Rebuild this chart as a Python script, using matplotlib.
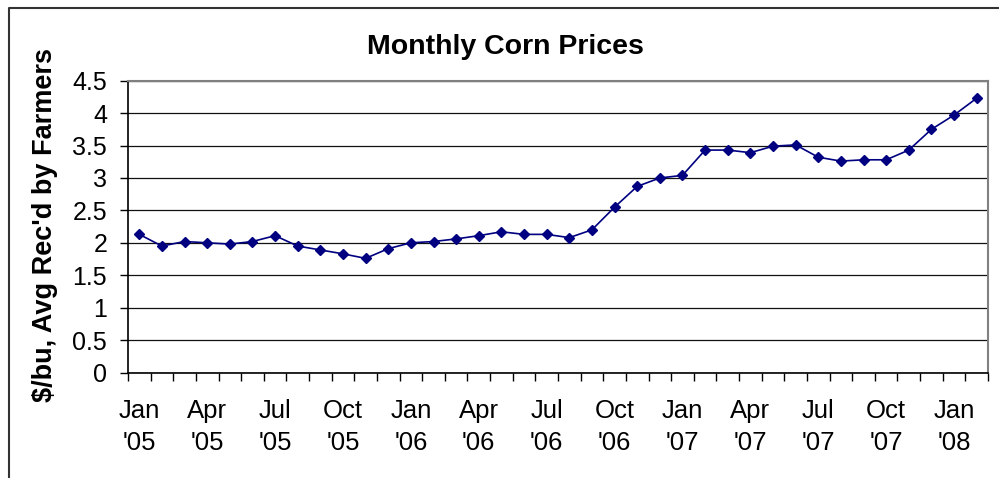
import matplotlib.pyplot as plt
from matplotlib.lines import Line2D

plt.rcParams['font.family'] = ['Liberation Sans', 'DejaVu Sans']

# monthly corn prices, Jan 2005 - Feb 2008 ($/bu)
prices = [2.13, 1.95, 2.02, 2.00, 1.98, 2.02, 2.11, 1.95, 1.89, 1.83, 1.76, 1.91,
          2.00, 2.02, 2.06, 2.11, 2.17, 2.13, 2.13, 2.08, 2.20, 2.55, 2.87, 3.00,
          3.04, 3.43, 3.43, 3.39, 3.49, 3.51, 3.32, 3.26, 3.28, 3.28, 3.43, 3.75,
          3.97, 4.23]
tick_labels = ["Jan\n'05", "Apr\n'05", "Jul\n'05", "Oct\n'05",
               "Jan\n'06", "Apr\n'06", "Jul\n'06", "Oct\n'06",
               "Jan\n'07", "Apr\n'07", "Jul\n'07", "Oct\n'07",
               "Jan\n'08"]
y_ticks = [0, 0.5, 1, 1.5, 2, 2.5, 3, 3.5, 4, 4.5]

fig = plt.figure(figsize=(9.99, 4.78), dpi=100)
ax = fig.add_axes([0.1281, 0.2207, 0.8609, 0.6105])

x = list(range(len(prices)))
ax.plot(x, prices, color='#000080', lw=1.2, marker='D', ms=5.5, zorder=3)

ax.set_xlim(-0.5, len(prices) - 0.5)
ax.set_ylim(0, 4.5)
ax.set_yticks(y_ticks)
ax.set_yticklabels(['0', '0.5', '1', '1.5', '2', '2.5', '3', '3.5', '4', '4.5'])
ax.yaxis.grid(True, color='#111111', lw=0.9)
ax.set_axisbelow(True)

ax.set_xticks(x[::3])
ax.set_xticklabels(tick_labels, linespacing=1.45)
ax.set_xticks([i - 0.5 for i in range(len(prices) + 1)], minor=True)
ax.tick_params(axis='x', which='major', length=0, pad=19, labelsize=18.5)
ax.tick_params(axis='x', which='minor', length=6, width=1, color='black', direction='out')
ax.tick_params(axis='y', length=6, width=1, pad=9, labelsize=18)

for s in ['top', 'right']:
    ax.spines[s].set_color('#808080')
    ax.spines[s].set_linewidth(1.5)
for s in ['left', 'bottom']:
    ax.spines[s].set_color('black')
    ax.spines[s].set_linewidth(1.2)

fig.text(0.5055, 0.902, 'Monthly Corn Prices', ha='center', va='center',
         fontsize=20.5, fontweight='bold')
fig.text(0.045, 0.53, "$/bu, Avg Rec'd by Farmers", ha='center', va='center',
         rotation=90, fontsize=19.5, fontweight='bold')

# outer chart frame (top and left edges visible)
fig.add_artist(Line2D([0.009, 0.009, 1.0], [0.0, 0.983, 0.983],
                      transform=fig.transFigure, color='#333333', lw=1.5))

fig.savefig('out.png', dpi=100)
